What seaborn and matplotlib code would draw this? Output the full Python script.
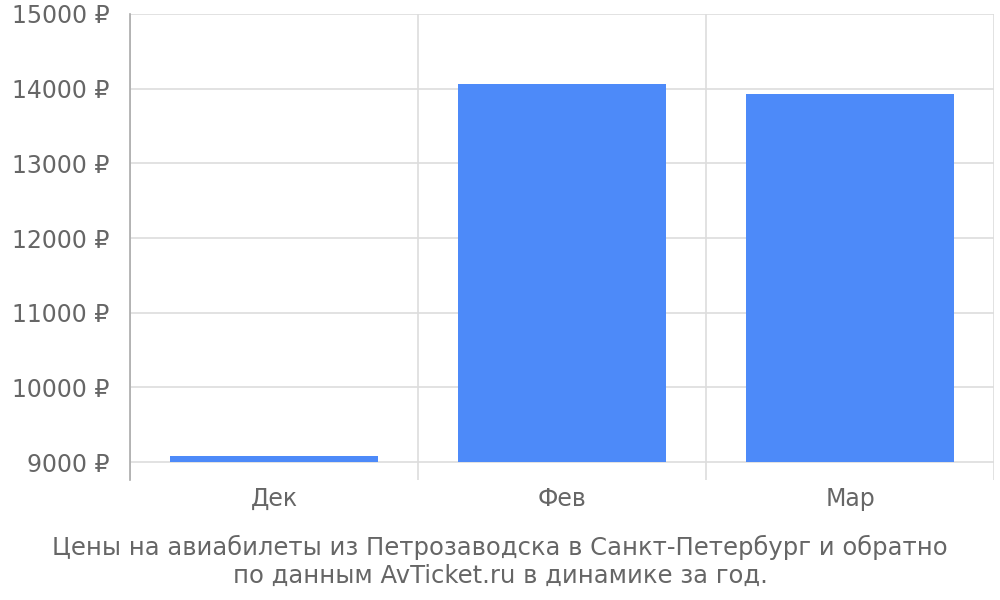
import numpy as np
import pandas as pd
import seaborn as sns
import matplotlib.pyplot as plt

months = ["Дек", "Фев", "Мар"]
prices = [9080, 14065, 13935]
y_ticks = [9000, 10000, 11000, 12000, 13000, 14000, 15000]
caption = ("Цены на авиабилеты из Петрозаводска в Санкт-Петербург и обратно\n"
           "по данным AvTicket.ru в динамике за год.")

df = pd.DataFrame({"month": months, "price": prices})

sns.set_style("white")
plt.rcParams['font.family'] = 'sans-serif'
plt.rcParams['font.sans-serif'] = ['DejaVu Sans']

text_color = "#666666"
grid_color = "#dddddd"
base = 9000

fig = plt.figure(figsize=(10, 6), dpi=100)
ax = fig.add_axes([0.13, 0.2, 0.864, 0.7767])

sns.barplot(data=df, x="month", y="price", color="#4d8af9", saturation=1,
            width=0.72, linewidth=0, ax=ax, zorder=3)

# bars start at the 9000 baseline
for p in ax.patches:
    top = p.get_y() + p.get_height()
    p.set_y(base)
    p.set_height(top - base)

ax.set_xlim(-0.5, 2.5)
ax.set_ylim(8760, 15000)
ax.set_yticks(y_ticks)
ax.set_yticklabels([f"{v} ₽" for v in y_ticks])
ax.set_xticks(np.arange(len(months)))
ax.set_xticklabels(months)
ax.set_xticks(np.arange(-0.5, len(months)), minor=True)

ax.set_xlabel("")
ax.set_ylabel("")

ax.grid(axis="y", color=grid_color, linewidth=1.2, zorder=0)
ax.grid(axis="x", which="minor", color=grid_color, linewidth=1.2, zorder=0)
ax.tick_params(axis="y", length=14, width=1.2, color=grid_color,
               labelcolor=text_color, labelsize=17, pad=1)
ax.tick_params(axis="x", which="major", length=0, labelcolor=text_color,
               labelsize=17, pad=5)
ax.tick_params(axis="x", which="minor", length=0)

for s in ["top", "right", "bottom"]:
    ax.spines[s].set_visible(False)
ax.spines["left"].set_color("#aaaaaa")
ax.spines["left"].set_linewidth(1.2)

fig.text(0.5, 0.064, caption, ha="center", va="center", fontsize=17.5,
         color=text_color, linespacing=1.2)

fig.savefig("out.png", dpi=100)
